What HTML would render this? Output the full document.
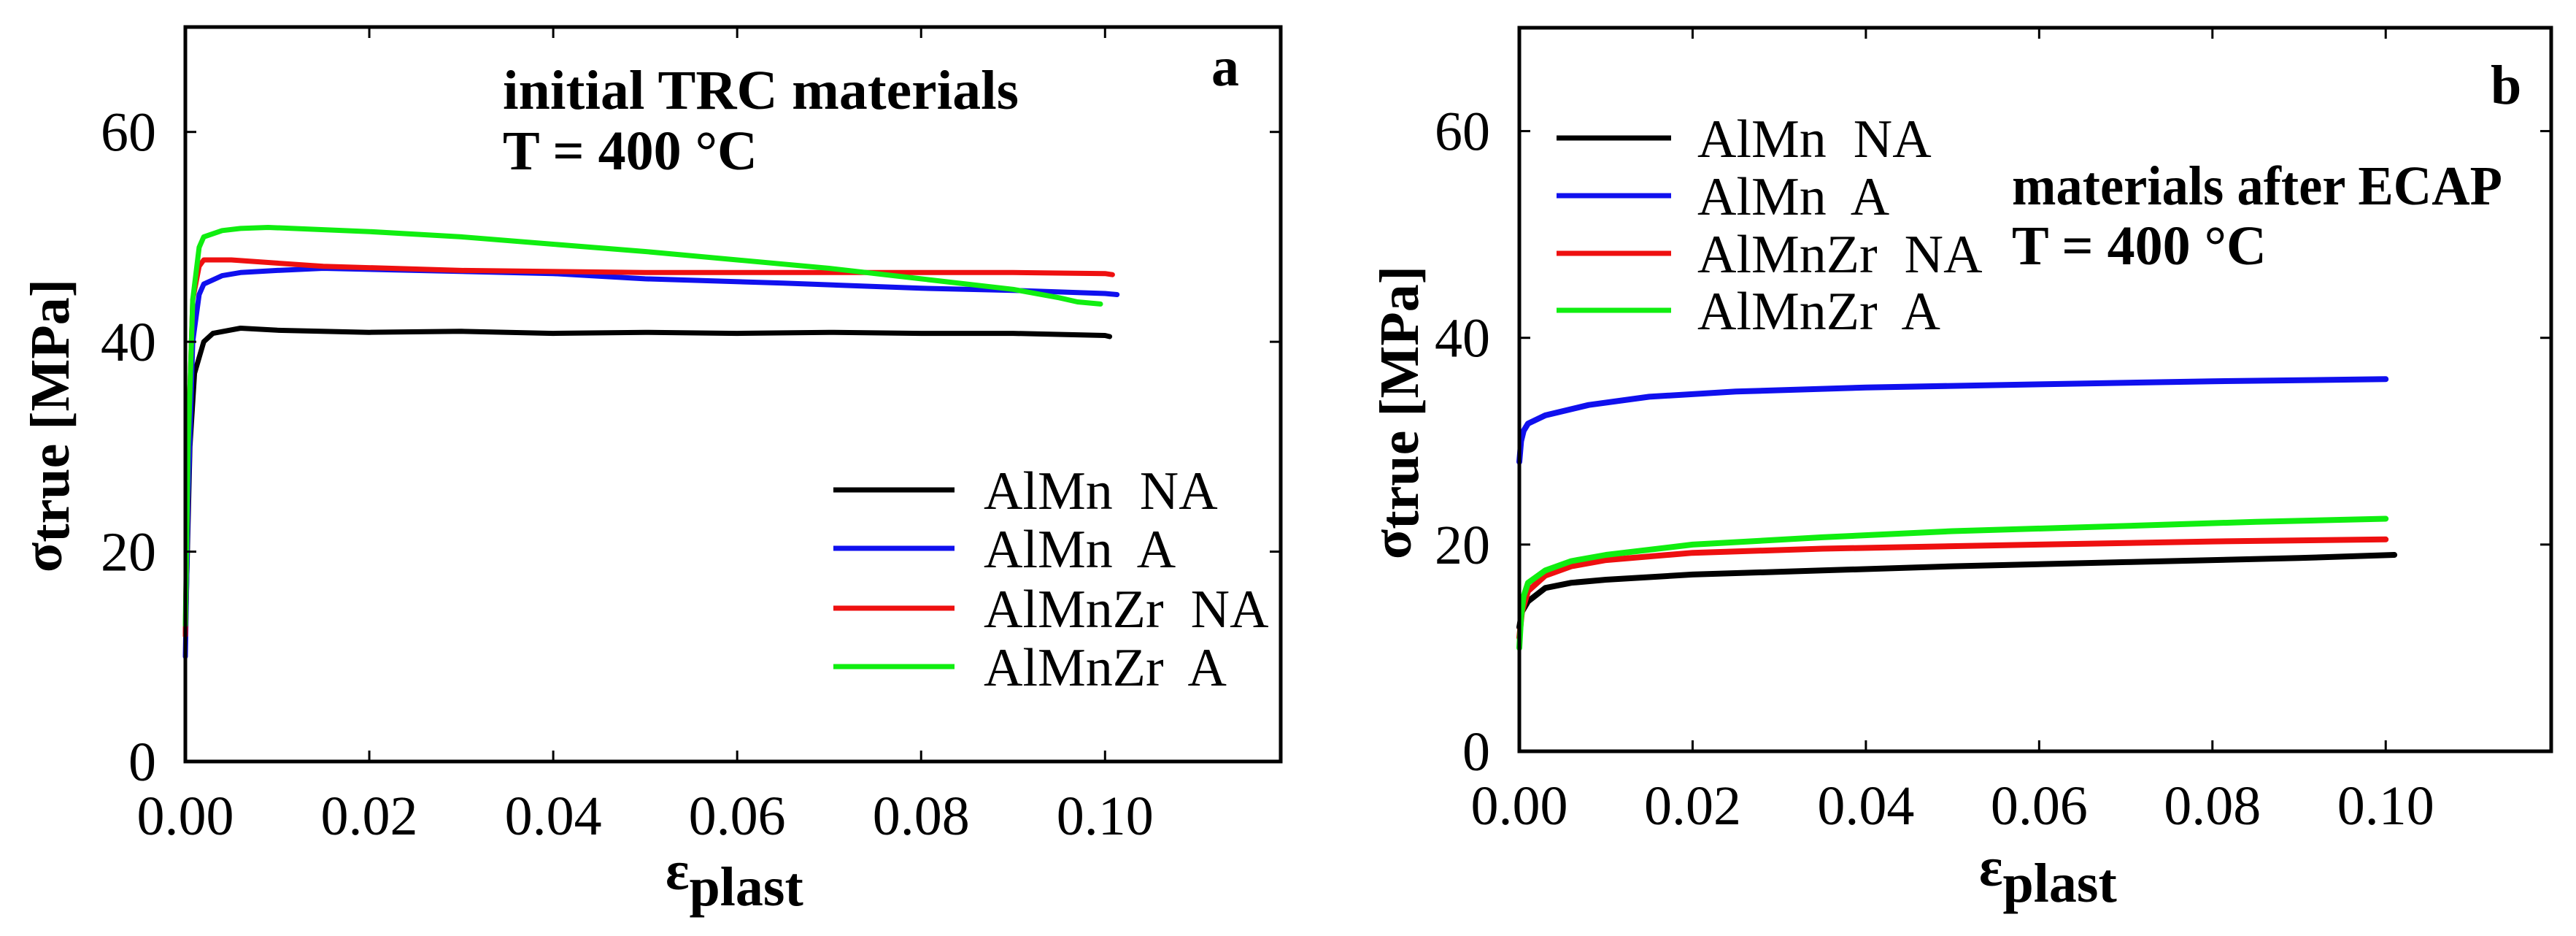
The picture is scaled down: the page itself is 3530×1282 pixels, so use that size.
<!DOCTYPE html>
<html><head><meta charset="utf-8"><style>
html,body{margin:0;padding:0;background:#fff;}
svg{display:block;}
text{font-family:"Liberation Serif","Times New Roman",serif;fill:#000;}
</style></head>
<body>
<svg id="fig" width="3530" height="1282" viewBox="0 0 3530 1282"></svg>
<script>
// ---- data (panel a: initial TRC) ----
const seriesNames = ["AlMn  NA","AlMn  A","AlMnZr  NA","AlMnZr  A"];
const seriesColors = ["#000000","#1010ee","#ee1010","#10ee10"];
const xTicks = [0,0.02,0.04,0.06,0.08,0.10];
const xTickLabels = ["0.00","0.02","0.04","0.06","0.08","0.10"];
const yTicks = [0,20,40,60];
const yTickLabels = ["0","20","40","60"];

const aBlackX = [0,0.0005,0.001,0.002,0.003,0.006,0.01,0.02,0.03,0.04,0.05,0.06,0.07,0.08,0.09,0.1,0.1005];
const aBlackY = [12,30,37,40,40.8,41.3,41.1,40.9,41,40.8,40.9,40.8,40.9,40.8,40.8,40.6,40.5];
const aBlueX = [0,0.0003,0.0008,0.0015,0.002,0.004,0.006,0.01,0.015,0.025,0.04,0.05,0.065,0.08,0.09,0.1,0.1013];
const aBlueY = [10,25,40,44.5,45.5,46.3,46.6,46.8,47,46.8,46.5,46,45.6,45.1,44.9,44.6,44.5];
const aRedX = [0,0.0003,0.0008,0.0015,0.002,0.005,0.01,0.015,0.03,0.05,0.07,0.09,0.1,0.1008];
const aRedY = [12,30,44,47.2,47.8,47.8,47.5,47.2,46.8,46.6,46.6,46.6,46.5,46.4];
const aGreenX = [0,0.0003,0.0008,0.0015,0.002,0.004,0.006,0.009,0.02,0.03,0.04,0.05,0.06,0.07,0.08,0.09,0.095,0.097,0.0995];
const aGreenY = [13,30,44,49,50,50.6,50.8,50.9,50.5,50,49.3,48.6,47.8,47,46,45,44.2,43.8,43.6];

// ---- data (panel b: after ECAP) ----
const bBlackX = [0,0.0003,0.001,0.003,0.006,0.01,0.02,0.035,0.05,0.07,0.09,0.101];
const bBlackY = [12,13.5,14.5,15.8,16.3,16.6,17.1,17.5,17.9,18.3,18.7,19];
const bBlueX = [0,0.0002,0.0005,0.001,0.003,0.008,0.015,0.025,0.04,0.06,0.08,0.1];
const bBlueY = [28,30,31,31.7,32.5,33.5,34.3,34.8,35.2,35.5,35.8,36];
const bRedX = [0,0.0003,0.001,0.003,0.006,0.01,0.02,0.035,0.06,0.08,0.1];
const bRedY = [11,13.5,15.5,17,17.9,18.5,19.2,19.6,20,20.3,20.5];
const bGreenX = [0,0.0002,0.0005,0.001,0.003,0.006,0.01,0.02,0.035,0.05,0.07,0.085,0.1];
const bGreenY = [10,13,15,16.3,17.5,18.4,19,20,20.7,21.3,21.8,22.2,22.5];

const NS="http://www.w3.org/2000/svg";
const svg=document.getElementById('fig');
function mk(tag,attrs,parent){const e=document.createElementNS(NS,tag);for(const k in attrs)e.setAttribute(k,attrs[k]);(parent||svg).appendChild(e);return e;}

function panel(p){
  const g=mk('g',{});
  
  
  const xs=v=>p.L+(v-0)/(p.xmax)*(p.R-p.L);
  const ys=v=>p.B-(v/p.ymax)*(p.B-p.T);
  p.series.forEach((s,i)=>{
    let d='';
    s.x.forEach((xv,j)=>{d+=(j?'L':'M')+xs(xv).toFixed(1)+' '+ys(s.y[j]).toFixed(1);});
    const path=mk('path',{d:d,fill:'none',stroke:seriesColors[i],'stroke-width':p.sw,'stroke-linejoin':'round','stroke-linecap':'round'},g);
    
    
  });
  const fr=mk('rect',{x:p.L,y:p.T,width:p.R-p.L,height:p.B-p.T,fill:'none',stroke:'#000','stroke-width':5},g);
  
  
  xTicks.forEach((t,i)=>{
    const x=xs(t);
    mk('line',{x1:x,y1:p.B,x2:x,y2:p.B-15,stroke:'#000','stroke-width':3},g);
    mk('line',{x1:x,y1:p.T,x2:x,y2:p.T+15,stroke:'#000','stroke-width':3},g);
    const tl=mk('text',{x:x,y:p.B+100,'font-size':76,'text-anchor':'middle'},g);
    tl.textContent=xTickLabels[i];
    
    
  });
  yTicks.forEach((t,i)=>{
    const y=ys(t);
    mk('line',{x1:p.L,y1:y,x2:p.L+15,y2:y,stroke:'#000','stroke-width':3},g);
    mk('line',{x1:p.R,y1:y,x2:p.R-15,y2:y,stroke:'#000','stroke-width':3},g);
    const tl=mk('text',{x:p.L-40,y:y+26,'font-size':76,'text-anchor':'end'},g);
    tl.textContent=yTickLabels[i];
    
    
  });
  seriesNames.forEach((n,i)=>{
    const y=p.legY[i];
    const ln=mk('line',{x1:p.legX1,y1:y,x2:p.legX2,y2:y,stroke:seriesColors[i],'stroke-width':7},g);
    
    
    const tx=mk('text',{x:p.legTX,y:y+26,'font-size':74},g);
    tx.setAttribute('style','white-space:pre');
    tx.textContent=n;
    
    
  });
  const a1=mk('text',{x:p.annX,y:p.annY1,'font-size':76,'font-weight':'bold',textLength:p.annW,lengthAdjust:'spacingAndGlyphs'},g);
  a1.textContent=p.ann;
  
  
  const a2=mk('text',{x:p.annX,y:p.annY2,'font-size':76,'font-weight':'bold'},g);
  a2.textContent='T = 400 °C';
  
  
  const pl=mk('text',{x:p.lblX,y:p.lblY,'font-size':76,'font-weight':'bold'},g);
  pl.textContent=p.label;
  
  
  const xt=mk('text',{x:p.xtX,y:p.xtY,'font-size':76,'font-weight':'bold'},g);
  
  
  const e1=mk('tspan',{},xt);e1.textContent='ε';
  const e2=mk('tspan',{dy:22},xt);e2.textContent='plast';
  const yt=mk('text',{x:0,y:0,'font-size':76,'font-weight':'bold','text-anchor':'middle',transform:'translate('+p.ytX+','+p.ytY+') rotate(-90)'},g);
  
  
  const s1=mk('tspan',{dy:-10},yt);s1.textContent='σ';
  const s2=mk('tspan',{dy:10},yt);s2.textContent='true [MPa]';
}

panel({id:'panel-a',L:254,R:1755,T:37,B:1043,xmax:0.1191,ymax:70,sw:7,
  series:[{x:aBlackX,y:aBlackY},{x:aBlueX,y:aBlueY},{x:aRedX,y:aRedY},{x:aGreenX,y:aGreenY}],
  legX1:1142,legX2:1308,legTX:1348,legY:[671,751,833,913],
  ann:'initial TRC materials',annX:689,annY1:149,annY2:232,annW:707,
  label:'a',lblX:1660,lblY:117,xtX:912,xtY:1218,ytX:94,ytY:583});
panel({id:'panel-b',L:2082,R:3496,T:38,B:1029,xmax:0.1191,ymax:70,sw:8,
  series:[{x:bBlackX,y:bBlackY},{x:bBlueX,y:bBlueY},{x:bRedX,y:bRedY},{x:bGreenX,y:bGreenY}],
  legX1:2133,legX2:2290,legTX:2326,legY:[189,268,347,425],
  ann:'materials after ECAP',annX:2757,annY1:280,annY2:362,annW:672,
  label:'b',lblX:3413,lblY:142,xtX:2712,xtY:1213,ytX:1943,ytY:565});
</script>
</body></html>
